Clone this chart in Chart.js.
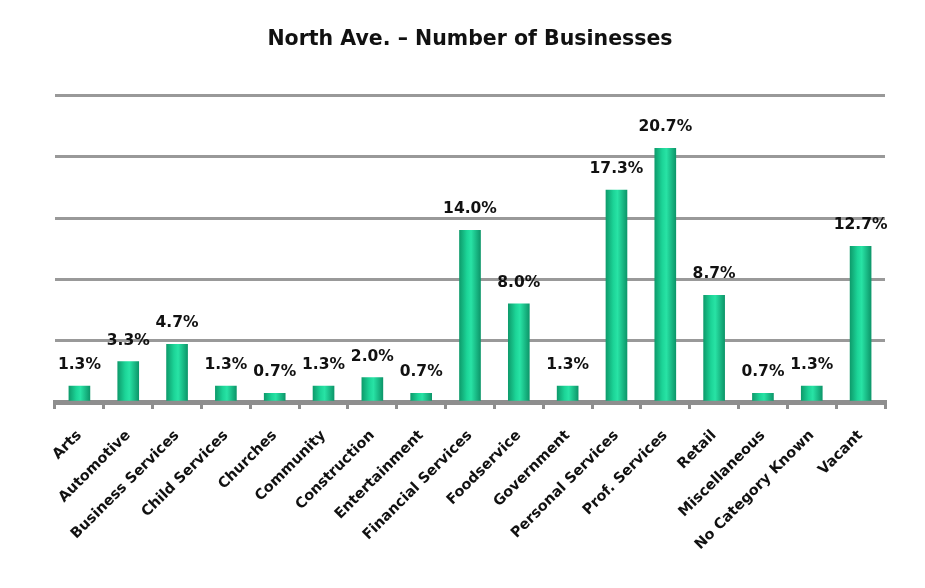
<!DOCTYPE html>
<html>
<head>
<meta charset="utf-8">
<script src="https://cdn.jsdelivr.net/npm/chart.js@4/dist/chart.umd.min.js"></script>
<style>
  html, body { margin: 0; padding: 0; background: #fff; }
  #wrap { width: 925px; height: 588px; position: relative; }
</style>
</head>
<body>
<div id="wrap"><canvas id="c" width="925" height="588"></canvas></div>
<script>
// Share of businesses by category along North Ave.
const categories = [
  "Arts", "Automotive", "Business Services", "Child Services", "Churches",
  "Community", "Construction", "Entertainment", "Financial Services",
  "Foodservice", "Government", "Personal Services", "Prof. Services",
  "Retail", "Miscellaneous", "No Category Known", "Vacant"
];
const sharePercent = [1.3, 3.3, 4.7, 1.3, 0.7, 1.3, 2.0, 0.7, 14.0, 8.0, 1.3, 17.3, 20.7, 8.7, 0.7, 1.3, 12.7];
const yTicks = [0, 5, 10, 15, 20, 25];

const FONT = "'DejaVu Sans', Verdana, sans-serif";
const BAR_W = 21;

// cylinder-style shading across each bar
function barFill(ctx) {
  const chart = ctx.chart;
  const xs = chart.scales && chart.scales.x;
  if (!xs || ctx.dataIndex === undefined) return '#1cc98f';
  const cx = xs.getPixelForValue(ctx.dataIndex);
  if (!isFinite(cx)) return '#1cc98f';
  const g = chart.ctx.createLinearGradient(cx - BAR_W / 2, 0, cx + BAR_W / 2, 0);
  g.addColorStop(0, '#0e9c6c');
  g.addColorStop(0.35, '#1cd497');
  g.addColorStop(0.55, '#28e3a5');
  g.addColorStop(1, '#0d976a');
  return g;
}

// percentage labels above bars
const valueLabels = {
  id: 'valueLabels',
  afterDatasetsDraw(chart) {
    const { ctx } = chart;
    const meta = chart.getDatasetMeta(0);
    ctx.save();
    ctx.font = "bold 15.5px " + FONT;
    ctx.fillStyle = '#111';
    ctx.textAlign = 'center';
    ctx.textBaseline = 'middle';
    meta.data.forEach((bar, i) => {
      const v = chart.data.datasets[0].data[i];
      ctx.fillText(v.toFixed(1) + '%', bar.x, bar.y - 21);
    });
    ctx.restore();
  }
};

new Chart(document.getElementById('c'), {
  type: 'bar',
  data: {
    labels: categories,
    datasets: [{
      data: sharePercent,
      backgroundColor: barFill,
      barThickness: BAR_W,
      borderWidth: 0
    }]
  },
  options: {
    responsive: false,
    animation: false,
    devicePixelRatio: 1,
    layout: { padding: { left: 55, right: 40, top: 0, bottom: 0 } },
    plugins: {
      legend: { display: false },
      tooltip: { enabled: false },
      title: {
        display: true,
        text: 'North Ave. \u2013 Number of Businesses',
        color: '#111',
        font: { family: FONT, size: 20.5, weight: 'bold' },
        padding: { top: 27, bottom: 44 }
      }
    },
    scales: {
      x: {
        offset: true,
        grid: {
          display: true,
          drawOnChartArea: false,
          drawTicks: true,
          tickLength: 7,
          offset: true,
          color: '#8e8e8e',
          lineWidth: 3
        },
        border: { display: true, color: '#8e8e8e', width: 5 },
        ticks: {
          minRotation: 45,
          maxRotation: 45,
          autoSkip: false,
          padding: 18,
          color: '#111',
          font: { family: FONT, size: 14.5, weight: 'bold' }
        },
        afterFit(scale) { scale.height = 186; }
      },
      y: {
        min: 0,
        max: 25,
        afterBuildTicks(scale) { scale.ticks = yTicks.map(v => ({ value: v })); },
        ticks: { display: false },
        grid: { color: '#999999', lineWidth: 3, drawTicks: false },
        border: { display: false },
        afterFit(scale) { scale.width = 0; }
      }
    }
  },
  plugins: [valueLabels]
});
</script>
</body>
</html>
